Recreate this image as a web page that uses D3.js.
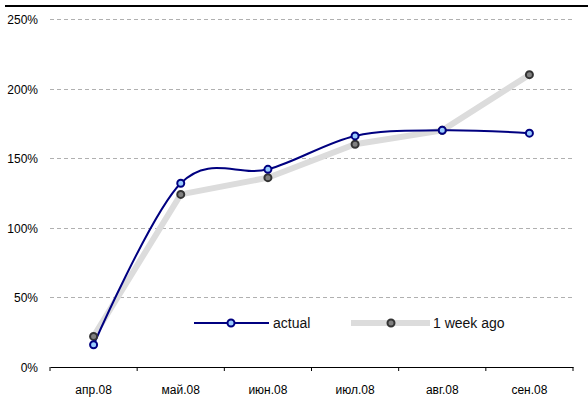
<!DOCTYPE html>
<html>
<head>
<meta charset="utf-8">
<script src="https://cdn.jsdelivr.net/npm/d3@7"></script>
<style>
body { margin: 0; background: #fff; }
text { font-family: "Liberation Sans", Arial, sans-serif; font-size: 12px; fill: #000; }
.legend text { font-size: 14px; fill: #111; }
</style>
</head>
<body>
<svg width="588" height="401"></svg>
<script>
var months = ["апр.08", "май.08", "июн.08", "июл.08", "авг.08", "сен.08"]
var actual = [16, 132, 142, 166, 170, 168]
var weekAgo = [22, 124, 136, 160, 170, 210]
var yTicks = [0, 50, 100, 150, 200, 250]

var svg = d3.select("svg")

var x = d3.scaleBand().domain(months).range([50, 573])
var y = d3.scaleLinear().domain([0, 250]).range([367, 19])
var cx = function(d, i){ return x(months[i]) + x.bandwidth() / 2 }

// top rule
svg.append("line").attr("x1", 5).attr("x2", 588).attr("y1", 6).attr("y2", 6)
	.attr("stroke", "#000").attr("stroke-width", 2)

// grid
svg.append("g").selectAll("line").data(yTicks.filter(function(d){ return d > 0 }))
	.enter().append("line")
	.attr("x1", 50).attr("x2", 573)
	.attr("y1", function(d){ return Math.round(y(d)) + 0.5 })
	.attr("y2", function(d){ return Math.round(y(d)) + 0.5 })
	.attr("stroke", "#b0b0b0").attr("stroke-dasharray", "4,3")

// y labels
svg.append("g").selectAll("text").data(yTicks).enter().append("text")
	.attr("x", 38).attr("y", function(d){ return y(d) + 5 })
	.attr("text-anchor", "end")
	.text(function(d){ return d + "%" })

// x axis
var xAxis = d3.axisBottom(x).tickSize(0).tickPadding(16)
var gx = svg.append("g").attr("transform", "translate(0,367)").call(xAxis)
gx.select(".domain").attr("stroke", "#000")
gx.selectAll("text").attr("font-family", null).attr("font-size", null)
	.attr("dy", "0.9em")
var edges = months.map(function(m){ return x(m) }).concat([x.range()[1]])
gx.selectAll(".edge").data(edges).enter().append("line")
	.attr("x1", function(d){ return d }).attr("x2", function(d){ return d })
	.attr("y1", 0).attr("y2", 4).attr("stroke", "#000")

// week ago series
var straight = d3.line().x(cx).y(function(d){ return y(d) })
svg.append("path").datum(weekAgo).attr("d", straight)
	.attr("fill", "none").attr("stroke", "#dcdcdc").attr("stroke-width", 6)

// actual series
var smooth = d3.line().x(cx).y(function(d){ return y(d) }).curve(d3.curveCardinal.tension(0))
svg.append("path").datum(actual).attr("d", smooth)
	.attr("fill", "none").attr("stroke", "#000080").attr("stroke-width", 2)

svg.append("g").selectAll("circle").data(weekAgo).enter().append("circle")
	.attr("cx", cx).attr("cy", function(d){ return y(d) }).attr("r", 3.5)
	.attr("fill", "#808080").attr("stroke", "#333").attr("stroke-width", 2)

svg.append("g").selectAll("circle").data(actual).enter().append("circle")
	.attr("cx", cx).attr("cy", function(d){ return y(d) }).attr("r", 3.5)
	.attr("fill", "#99ccff").attr("stroke", "#000080").attr("stroke-width", 2)

// legend
var leg = svg.append("g").attr("class", "legend")
leg.append("line").attr("x1", 194).attr("x2", 269).attr("y1", 323).attr("y2", 323)
	.attr("stroke", "#000080").attr("stroke-width", 2)
leg.append("circle").attr("cx", 231).attr("cy", 323).attr("r", 3.5)
	.attr("fill", "#99ccff").attr("stroke", "#000080").attr("stroke-width", 2)
leg.append("text").attr("x", 273).attr("y", 328).text("actual")
leg.append("line").attr("x1", 351).attr("x2", 430).attr("y1", 323).attr("y2", 323)
	.attr("stroke", "#dcdcdc").attr("stroke-width", 6)
leg.append("circle").attr("cx", 391).attr("cy", 323).attr("r", 3.5)
	.attr("fill", "#808080").attr("stroke", "#333").attr("stroke-width", 2)
leg.append("text").attr("x", 433).attr("y", 328).text("1 week ago")
</script>
</body>
</html>
